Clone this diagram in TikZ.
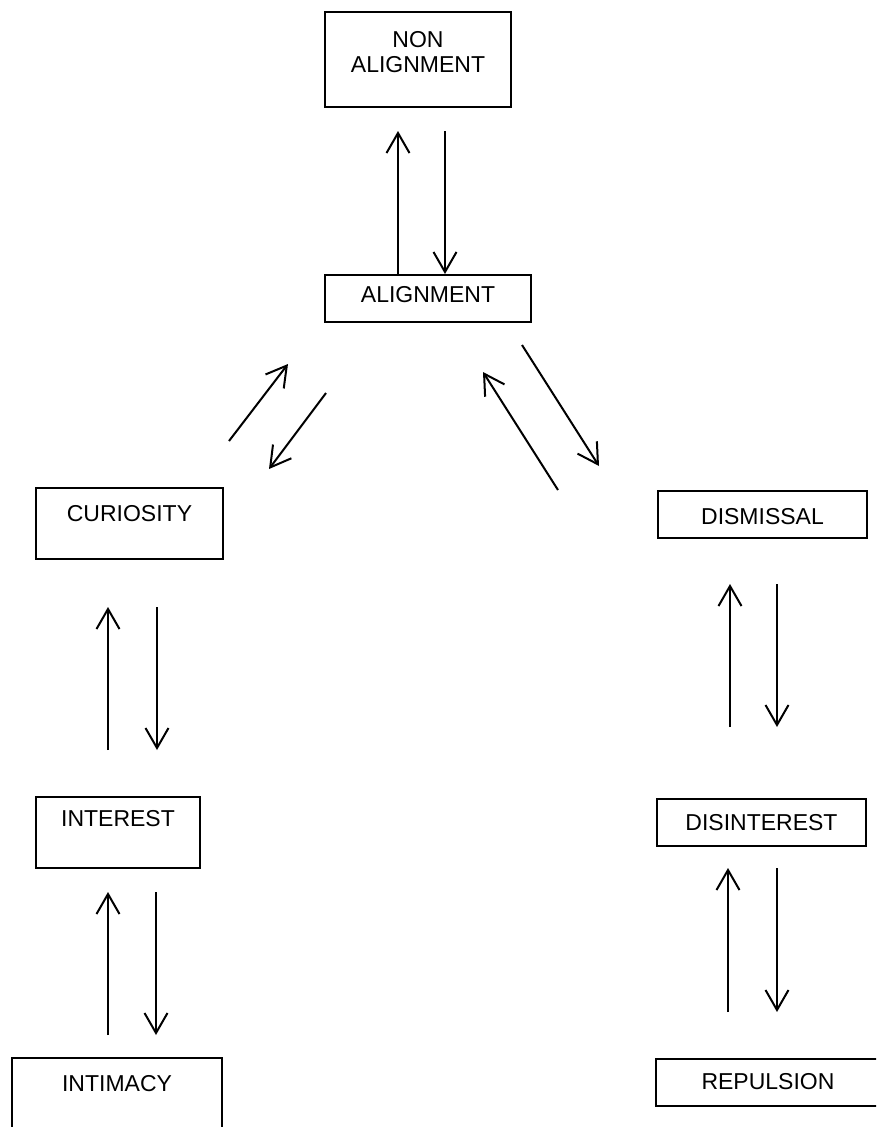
\documentclass[tikz,border=0pt]{standalone}
\usepackage{fontspec}
\setmainfont{Liberation Sans}
\usetikzlibrary{arrows.meta}
\begin{document}
\begin{tikzpicture}[x=1pt,y=-1pt,
  stage/.style={draw, line width=2pt, rectangle, inner xsep=0pt, inner ysep=0pt,
    anchor=north, font=\fontsize{23}{25}\selectfont},
  flow/.style={line width=2pt,
    -{Straight Barb[length=20pt,width=23pt,line width=2pt]}}]
\useasboundingbox (0,0) rectangle (876,1127);
\clip (0,0) rectangle (876,1127);

% stages
\node[stage, minimum width=186pt, text height=60pt, text depth=35pt] (nonalign) at (418,11)
  {\vbox{\hbox to 186pt{\hfil NON\hfil}\hbox to 186pt{\hfil ALIGNMENT\hfil}}};
\node[stage, minimum width=206pt, text height=27pt, text depth=20pt] (align) at (428,274) {ALIGNMENT};
\node[stage, minimum width=187pt, text height=33pt, text depth=38pt] (curiosity) at (129.5,487) {CURIOSITY};
\node[stage, minimum width=209pt, text height=33pt, text depth=14pt] (dismissal) at (762.5,490) {DISMISSAL};
\node[stage, minimum width=164pt, text height=29pt, text depth=42pt] (interest) at (118,796) {INTEREST};
\node[stage, minimum width=209pt, text height=31pt, text depth=16pt] (disinterest) at (761.5,798) {DISINTEREST};
\node[stage, minimum width=210pt, text height=33pt, text depth=60pt] (intimacy) at (117,1057) {INTIMACY};
\node[stage, minimum width=224pt, text height=30pt, text depth=17pt] (repulsion) at (768,1058) {REPULSION};

% free ends of the transitions
\coordinate (naup) at (398,131);
\coordinate (nadn) at (445,131);
\coordinate (d1s) at (229,441);  \coordinate (d1e) at (288,364);
\coordinate (d2s) at (326,393);  \coordinate (d2e) at (269,469);
\coordinate (d3s) at (558,490);  \coordinate (d3e) at (483,372);
\coordinate (d4s) at (522,345);  \coordinate (d4e) at (599,466);
\coordinate (l1a) at (108,750);  \coordinate (l1b) at (108,607);
\coordinate (l1c) at (157,607);  \coordinate (l1d) at (157,750);
\coordinate (l2a) at (108,1035); \coordinate (l2b) at (108,892);
\coordinate (l2c) at (156,892);  \coordinate (l2d) at (156,1035);
\coordinate (r1a) at (730,727);  \coordinate (r1b) at (730,584);
\coordinate (r1c) at (777,584);  \coordinate (r1d) at (777,727);
\coordinate (r2a) at (728,1012); \coordinate (r2b) at (728,868);
\coordinate (r2c) at (777,868);  \coordinate (r2d) at (777,1012);

% transitions
\draw[flow] (align.north -| naup) -- (naup);
\draw[flow] (nadn) -- (align.north -| nadn);
\draw[flow] (d1s) -- (d1e);
\draw[flow] (d2s) -- (d2e);
\draw[flow] (d3s) -- (d3e);
\draw[flow] (d4s) -- (d4e);
\draw[flow] (l1a) -- (l1b);
\draw[flow] (l1c) -- (l1d);
\draw[flow] (l2a) -- (l2b);
\draw[flow] (l2c) -- (l2d);
\draw[flow] (r1a) -- (r1b);
\draw[flow] (r1c) -- (r1d);
\draw[flow] (r2a) -- (r2b);
\draw[flow] (r2c) -- (r2d);
\end{tikzpicture}
\end{document}
